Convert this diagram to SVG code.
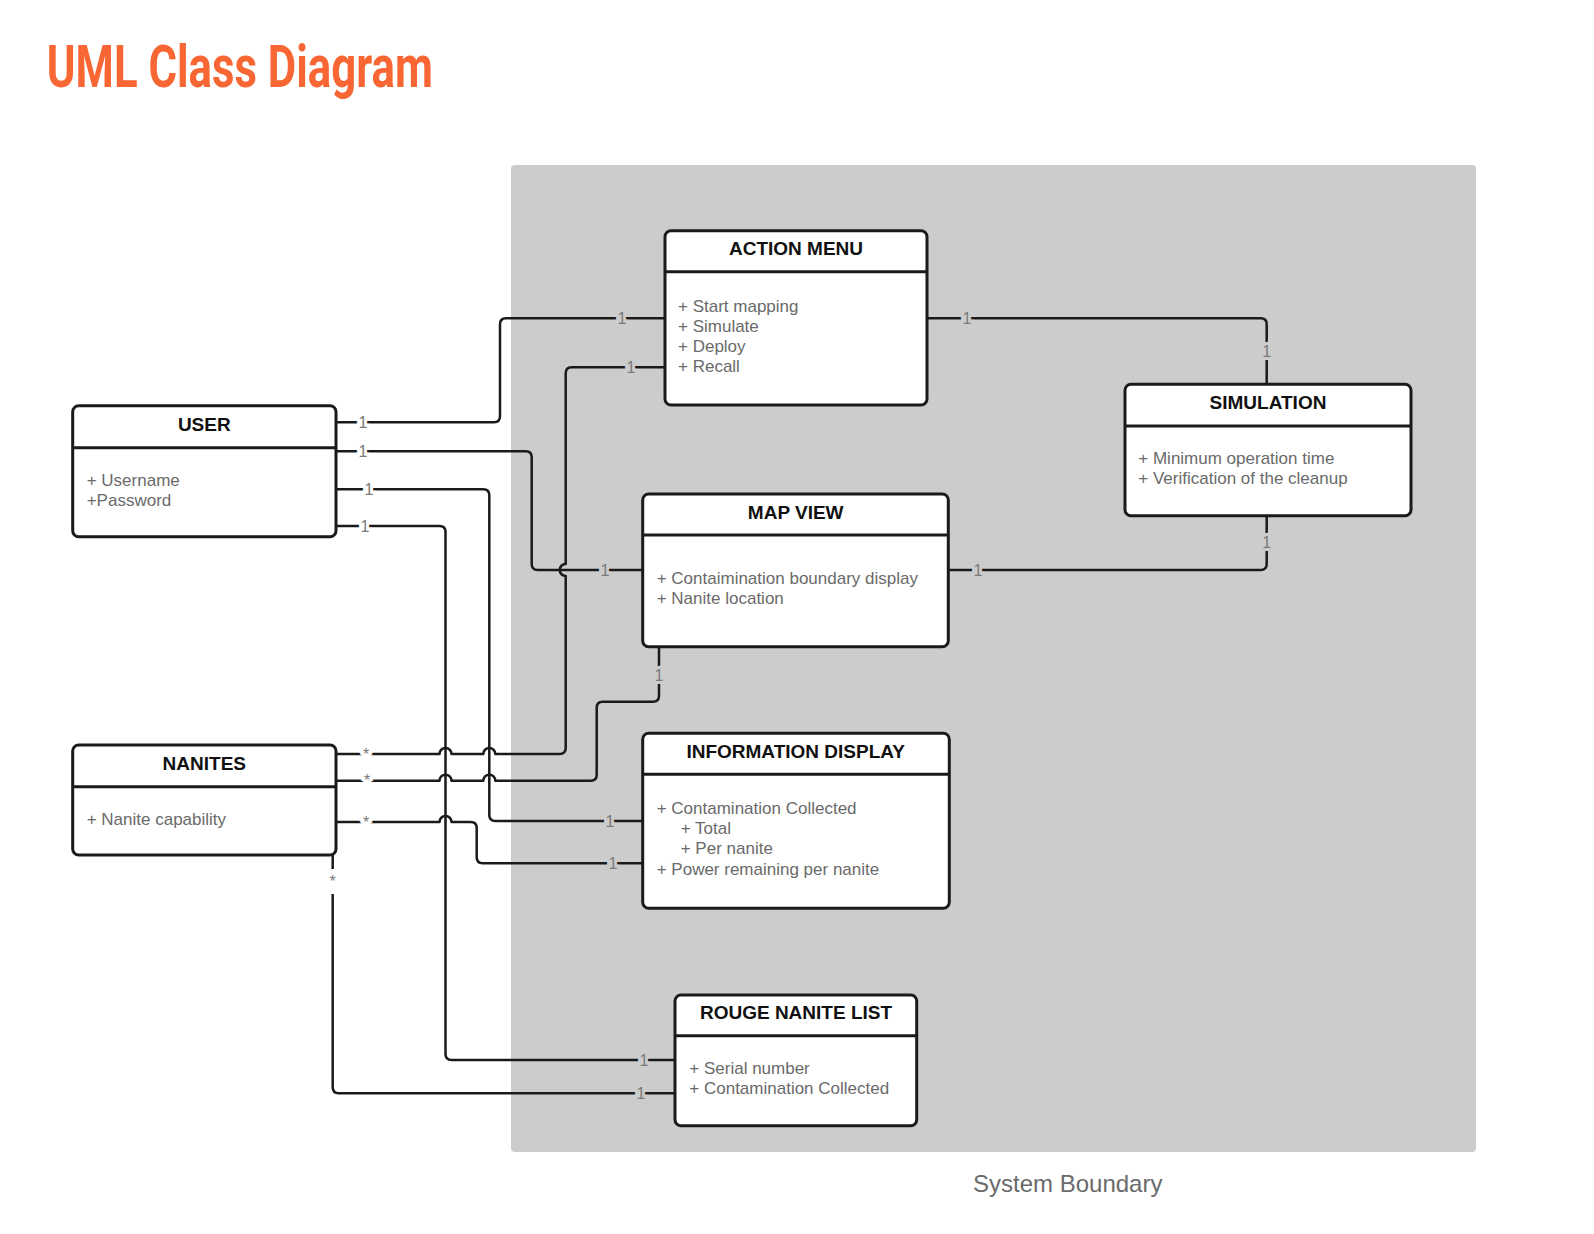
<svg xmlns="http://www.w3.org/2000/svg" width="1594" height="1234" viewBox="0 0 1594 1234">
<style>
.box{fill:#fff;stroke:#1a1a1a;stroke-width:3}
.div{stroke:#1a1a1a;stroke-width:3}
.ttl{font-family:"Liberation Sans",Arial,sans-serif;font-weight:bold;font-size:19px;fill:#111;text-anchor:middle}
.itm{font-family:"Liberation Sans",Arial,sans-serif;font-size:17px;fill:#6a6a6a}
.con{fill:none;stroke:#1a1a1a;stroke-width:2.5;stroke-linejoin:round}
.lbl{font-family:"Liberation Sans",Arial,sans-serif;font-size:16px;fill:#7a7a7a;text-anchor:middle;paint-order:stroke;stroke-width:6px}
.lw{stroke:#fff}
.lg{stroke:#ccc}
</style>
<rect width="1594" height="1234" fill="#fff"/>
<text id="title" x="46.8" y="87" font-family="'Liberation Sans Narrow',Roboto,'Liberation Sans',sans-serif" font-weight="bold" font-size="59" fill="#F86633" textLength="386" lengthAdjust="spacingAndGlyphs">UML Class Diagram</text>
<g id="system-boundary">
<rect x="511" y="165" width="965" height="987" rx="4" fill="#cccccc"/>
<text x="973" y="1192" font-family="'Liberation Sans',Arial,sans-serif" font-size="24" fill="#6a6a6a">System Boundary</text>
</g>
<g id="connectors">
<path class="con" d="M336 422.3H494Q500 422.3 500 416.3V324.3Q500 318.3 506 318.3H665"/>
<path class="con" d="M336 451.3H525.7Q531.7 451.3 531.7 457.3V564Q531.7 570 537.7 570H642.7"/>
<path class="con" d="M336 489.3H483.3Q489.3 489.3 489.3 495.3V815Q489.3 821 495.3 821H642.7"/>
<path class="con" d="M336 526H439.5Q445.5 526 445.5 532V1054Q445.5 1060 451.5 1060H675"/>
<path class="con" d="M927 318.3H1260.7Q1266.7 318.3 1266.7 324.3V384.3"/>
<path class="con" d="M948.3 570H1260.7Q1266.7 570 1266.7 564V515.7"/>
<path class="con" d="M336 754H439.5A6 6 0 0 1 451.5 754H483.3A6 6 0 0 1 495.3 754H559.7Q565.7 754 565.7 748V576A6 6 0 0 1 565.7 564V373.3Q565.7 367.3 571.7 367.3H665"/>
<path class="con" d="M336 780.7H439.5A6 6 0 0 1 451.5 780.7H483.3A6 6 0 0 1 495.3 780.7H590.7Q596.7 780.7 596.7 774.7V707.7Q596.7 701.7 602.7 701.7H653Q659 701.7 659 695.7V646.7"/>
<path class="con" d="M336 822H439.5A6 6 0 0 1 451.5 822H470.7Q476.7 822 476.7 828V857.3Q476.7 863.3 482.7 863.3H642.7"/>
<path class="con" d="M332.7 855V869M332.7 894V1087.3Q332.7 1093.3 338.7 1093.3H675"/>
<text class="lbl lw" x="363" y="427.8">1</text>
<text class="lbl lg" x="622" y="323.8">1</text>
<text class="lbl lw" x="363" y="456.8">1</text>
<text class="lbl lg" x="605" y="575.5">1</text>
<text class="lbl lw" x="369" y="494.8">1</text>
<text class="lbl lg" x="610" y="826.5">1</text>
<text class="lbl lw" x="365" y="531.5">1</text>
<text class="lbl lg" x="644" y="1065.5">1</text>
<text class="lbl lg" x="967" y="323.8">1</text>
<text class="lbl lg" x="1266.7" y="356.5">1</text>
<text class="lbl lg" x="978" y="575.5">1</text>
<text class="lbl lg" x="1266.7" y="547.5">1</text>
<text class="lbl lw" x="366" y="759.5">*</text>
<text class="lbl lg" x="631" y="372.8">1</text>
<text class="lbl lw" x="367" y="786.2">*</text>
<text class="lbl lg" x="659" y="680.5">1</text>
<text class="lbl lw" x="366" y="827.5">*</text>
<text class="lbl lg" x="613" y="868.8">1</text>
<text class="lbl lw" x="332.7" y="887">*</text>
<text class="lbl lg" x="641" y="1098.8">1</text>
</g>
<g id="action-menu">
<rect class="box" x="665" y="230.7" width="262" height="174.3" rx="6"/>
<line class="div" x1="665" y1="271.7" x2="927" y2="271.7"/>
<text class="ttl" x="796" y="255">ACTION MENU</text>
<text class="itm" x="678" y="311.7">+ Start mapping</text>
<text class="itm" x="678" y="331.7">+ Simulate</text>
<text class="itm" x="678" y="351.7">+ Deploy</text>
<text class="itm" x="678" y="371.7">+ Recall</text>
</g>
<g id="simulation">
<rect class="box" x="1125" y="384.3" width="286" height="131.4" rx="6"/>
<line class="div" x1="1125" y1="426" x2="1411" y2="426"/>
<text class="ttl" x="1268" y="409">SIMULATION</text>
<text class="itm" x="1138.3" y="464">+ Minimum operation time</text>
<text class="itm" x="1138.3" y="484.3">+ Verification of the cleanup</text>
</g>
<g id="user">
<rect class="box" x="72.7" y="405.7" width="263.3" height="131" rx="6"/>
<line class="div" x1="72.7" y1="447.7" x2="336" y2="447.7"/>
<text class="ttl" x="204.3" y="431">USER</text>
<text class="itm" x="86.7" y="486">+ Username</text>
<text class="itm" x="86.7" y="506">+Password</text>
</g>
<g id="map-view">
<rect class="box" x="642.7" y="494" width="305.6" height="152.7" rx="6"/>
<line class="div" x1="642.7" y1="535" x2="948.3" y2="535"/>
<text class="ttl" x="795.7" y="519.3">MAP VIEW</text>
<text class="itm" x="656.7" y="584.3">+ Contaimination boundary display</text>
<text class="itm" x="656.7" y="604.3">+ Nanite location</text>
</g>
<g id="information-display">
<rect class="box" x="642.7" y="733.3" width="306.6" height="175" rx="6"/>
<line class="div" x1="642.7" y1="774.3" x2="949.3" y2="774.3"/>
<text class="ttl" x="795.7" y="757.7">INFORMATION DISPLAY</text>
<text class="itm" x="656.7" y="814.3">+ Contamination Collected</text>
<text class="itm" x="680.7" y="834.3">+ Total</text>
<text class="itm" x="680.7" y="854.3">+ Per nanite</text>
<text class="itm" x="656.7" y="875">+ Power remaining per nanite</text>
</g>
<g id="nanites">
<rect class="box" x="72.7" y="745" width="263.3" height="110" rx="6"/>
<line class="div" x1="72.7" y1="786.7" x2="336" y2="786.7"/>
<text class="ttl" x="204.3" y="770">NANITES</text>
<text class="itm" x="86.7" y="825">+ Nanite capability</text>
</g>
<g id="rouge-nanite-list">
<rect class="box" x="675" y="995" width="241.7" height="130.7" rx="6"/>
<line class="div" x1="675" y1="1035.7" x2="916.7" y2="1035.7"/>
<text class="ttl" x="796" y="1019.3">ROUGE NANITE LIST</text>
<text class="itm" x="689.3" y="1074.3">+ Serial number</text>
<text class="itm" x="689.3" y="1094.3">+ Contamination Collected</text>
</g>
</svg>
